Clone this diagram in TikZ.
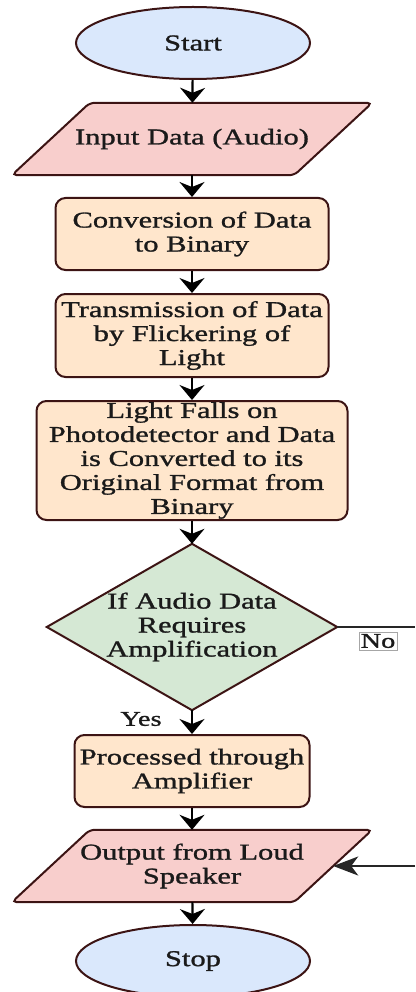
\documentclass[tikz,border=0pt]{standalone}
\usepackage{fontspec}
\setmainfont{Liberation Serif}[FakeStretch=1.35,FakeBold=1.2]
\usetikzlibrary{shapes.geometric,arrows.meta,calc,backgrounds}
\definecolor{bd}{HTML}{3C1414}
\definecolor{termfill}{HTML}{DAE8FC}
\definecolor{iofill}{HTML}{F8CECC}
\definecolor{procfill}{HTML}{FFE6CC}
\definecolor{decfill}{HTML}{D5E8D4}
\definecolor{txtc}{HTML}{1A1A1A}
\begin{document}
\begin{tikzpicture}[x=1pt,y=-1pt,
  every node/.style={font=\fontsize{22.6}{24}\selectfont, align=center, inner sep=0pt, text=txtc},
  term/.style={ellipse, draw=bd, fill=termfill, line width=2pt, minimum width=234pt, minimum height=72pt},
  proc/.style={rectangle, rounded corners=10pt, draw=bd, fill=procfill, line width=2pt},
  txtbox/.style={rectangle},
  ioshape/.style={draw=bd, fill=iofill, line width=2pt, rounded corners=5pt},
  decshape/.style={draw=bd, fill=decfill, line width=2pt},
  flow/.style={line width=2.2pt, -{Stealth[length=15pt,width=25pt,inset=5pt]}},
  hflow/.style={line width=2pt, draw=black!85, -{Stealth[length=25pt,width=19pt,inset=7pt]}},
  lbl/.style={font=\fontsize{21}{22}\selectfont}
]
\useasboundingbox (0,0) rectangle (415,992);

\node[term] (start) at (193,43) {Start};
\node[txtbox, minimum width=282pt, minimum height=72pt] (inp) at (192,139) {Input Data (Audio)};
\node[proc, minimum width=273pt, minimum height=72pt] (conv) at (192,234) {Conversion of Data\\to Binary};
\node[proc, minimum width=273pt, minimum height=83pt] (trans) at (192,335.5) {Transmission of Data\\by Flickering of\\Light};
\node[proc, minimum width=311pt, minimum height=119pt] (light) at (192,460.5) {Light Falls on\\Photodetector and Data\\is Converted to its\\Original Format from\\Binary};
\node[txtbox, minimum width=290pt, minimum height=166pt] (dec) at (192,627) {If Audio Data\\Requires\\Amplification};
\node[proc, minimum width=235pt, minimum height=72pt] (amp) at (192,771) {Processed through\\Amplifier};
\node[txtbox, minimum width=282pt, minimum height=72pt] (out) at (192,866) {Output from Loud\\Speaker};
\node[term] (stop) at (193,961) {Stop};

\begin{pgfonlayer}{background}
  \draw[ioshape] ($(inp.north west)+(39,0)$) -- ($(inp.north east)+(39,0)$) -- ($(inp.south east)+(-39,0)$) -- ($(inp.south west)+(-39,0)$) -- cycle;
  \draw[ioshape] ($(out.north west)+(39,0)$) -- ($(out.north east)+(39,0)$) -- ($(out.south east)+(-39,0)$) -- ($(out.south west)+(-39,0)$) -- cycle;
  \draw[decshape] (dec.north) -- (dec.east) -- (dec.south) -- (dec.west) -- cycle;
\end{pgfonlayer}

\draw[flow] (start) -- (inp);
\draw[flow] (inp) -- (conv);
\draw[flow] (conv) -- (trans);
\draw[flow] (trans) -- (light);
\draw[flow] (light) -- (dec);
\draw[flow] (dec) -- (amp);
\draw[flow] (amp) -- (out);
\draw[flow] (out) -- (stop);

\coordinate (noend) at (415,627);
\coordinate (retstart) at (415,866);
\draw[line width=2pt, black!85] (dec.east) -- (noend);
\draw[hflow] (retstart) -- (out.east);

\node[lbl, draw=black!35, line width=0.6pt, inner xsep=1.5pt, inner ysep=2pt] (nolbl) at (378,641) {No};
\node[lbl] (yeslbl) at (141,719) {Yes};
\end{tikzpicture}
\end{document}
